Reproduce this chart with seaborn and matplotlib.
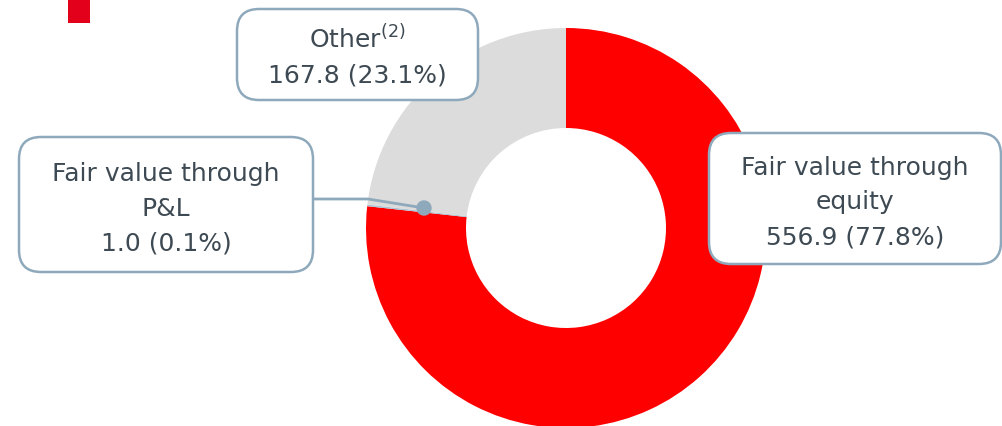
import seaborn as sns
import matplotlib.pyplot as plt
from matplotlib.patches import FancyBboxPatch, Rectangle, Circle

# data
categories = ["Fair value through\nequity", "Fair value through\nP&L", "Other$^{(2)}$"]
values = [556.9, 1.0, 167.8]
shares = [77.8, 0.1, 23.1]
colors = ["#FF0000", "#A9C4D6", "#DCDCDC"]

sns.set_theme(style="white")
plt.rcParams["font.family"] = ["DejaVu Sans"]

W, H = 1003, 426
fig = plt.figure(figsize=(W / 100, H / 100), dpi=100)
ax = fig.add_axes([0, 0, 1, 1])

# donut (pixel coordinates, y measured from the bottom)
ax.pie(values, colors=colors, startangle=90, counterclock=False,
       center=(566, H - 228), radius=200, frame=True,
       wedgeprops=dict(width=100, linewidth=0))

ax.set_xlim(0, W)
ax.set_ylim(0, H)
ax.set_aspect("equal", adjustable="box")
ax.axis("off")

border = "#8FA9BC"
txt_color = "#3E4A53"

# small brand square top-left
ax.add_patch(Rectangle((68, H - 23), 22, 23, color="#E2001A", lw=0, zorder=5))

# label boxes: (x0, y0, x1, y1) in picture pixels
boxes = {
    0: (709, 133, 1001, 264),
    1: (19, 137, 313, 272),
    2: (237, 9, 478, 100),
}

line_h = 35
for i, (x0, y0, x1, y1) in boxes.items():
    ax.add_patch(FancyBboxPatch((x0, H - y1), x1 - x0, y1 - y0,
                                boxstyle="round,pad=0,rounding_size=22",
                                fc="white", ec=border, lw=1.8, zorder=4))
    lines = categories[i].split("\n") + [f"{values[i]:.1f} ({shares[i]:.1f}%)"]
    cx, cy = (x0 + x1) / 2, (y0 + y1) / 2
    first = cy - (len(lines) - 1) / 2 * line_h + 11
    for k, s in enumerate(lines):
        ax.text(cx, H - (first + k * line_h), s, ha="center", va="baseline",
                fontsize=18, color=txt_color, zorder=6)

# leader line for the tiny P&L slice
ax.plot([313, 368, 424], [H - 199, H - 199, H - 208], color=border, lw=2, zorder=3,
        solid_capstyle="butt")
ax.add_patch(Circle((424, H - 208), 7, color=border, zorder=3))

fig.savefig("out.png", dpi=100)
